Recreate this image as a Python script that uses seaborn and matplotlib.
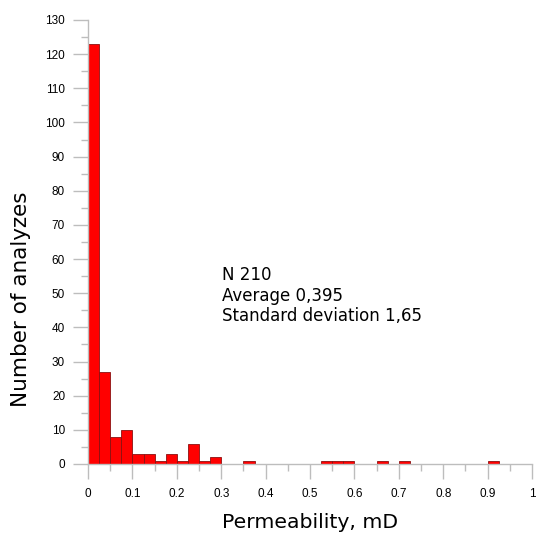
import numpy as np
import pandas as pd
import matplotlib
matplotlib.use("Agg")
import matplotlib.pyplot as plt
import seaborn as sns
from matplotlib.ticker import MultipleLocator, FuncFormatter

# Histogram of permeability (bin width 0.025 mD)
bin_width = 0.025
bin_starts = [0.000, 0.025, 0.050, 0.075, 0.100, 0.125, 0.150, 0.175, 0.200,
              0.225, 0.250, 0.275, 0.350, 0.525, 0.550, 0.575, 0.650, 0.700, 0.900]
counts = [123, 27, 8, 10, 3, 3, 1, 3, 1,
          6, 1, 2, 1, 1, 1, 1, 1, 1, 1]

stats_lines = ["N 210", "Average 0,395", "Standard deviation 1,65"]
x_label = "Permeability, mD"
y_label = "Number of analyzes"

df = pd.DataFrame({"perm": np.array(bin_starts) + bin_width / 2, "n": counts})

sns.set_theme(style="white")
# Tick numbers in an Arial-like face; titles use DejaVu Sans explicitly
plt.rcParams["font.family"] = ["Liberation Sans", "DejaVu Sans"]
plt.rcParams["text.color"] = "black"
plt.rcParams["axes.labelcolor"] = "black"
label_font = ["DejaVu Sans"]

fig = plt.figure(figsize=(5.36, 5.35), dpi=100)
ax = fig.add_axes([88 / 536, 1 - 464 / 535, 444 / 536, 444 / 535])

sns.histplot(data=df, x="perm", weights="n", binwidth=bin_width, binrange=(0, 1),
             ax=ax, color="#ff0000", alpha=1.0, edgecolor="#8a1010", linewidth=0.6)

ax.set_xlim(0, 1)
ax.set_ylim(0, 130)
ax.xaxis.set_major_locator(MultipleLocator(0.1))
ax.xaxis.set_minor_locator(MultipleLocator(0.05))
ax.yaxis.set_major_locator(MultipleLocator(10))
ax.yaxis.set_minor_locator(MultipleLocator(5))
ax.xaxis.set_major_formatter(FuncFormatter(lambda v, p: f"{v:.1f}".rstrip("0").rstrip(".") if v else "0"))

grey = "#bdbdbd"
for side in ["top", "right"]:
    ax.spines[side].set_visible(False)
for side in ["left", "bottom"]:
    ax.spines[side].set_color(grey)
    ax.spines[side].set_linewidth(1.0)

ax.tick_params(which="major", direction="out", length=10.5, width=1.0, color=grey,
               labelsize=8.5, labelcolor="black")
ax.tick_params(which="minor", direction="out", length=5, width=1.0, color=grey)
ax.tick_params(axis="x", which="both", bottom=True)
ax.tick_params(axis="x", which="major", pad=7)
ax.tick_params(axis="y", which="both", left=True)
ax.tick_params(axis="y", which="major", pad=6)

ax.set_xlabel(x_label, fontsize=14.7, family=label_font, labelpad=9)
ax.set_ylabel(y_label, fontsize=15.5, family=label_font)
ax.yaxis.set_label_coords(-0.128, 0.37)

ax.text(0.302, 41.9, "\n".join(stats_lines), fontsize=12, family=label_font,
        ha="left", va="baseline", linespacing=1.17, color="black")

fig.savefig("out.png", dpi=100)
